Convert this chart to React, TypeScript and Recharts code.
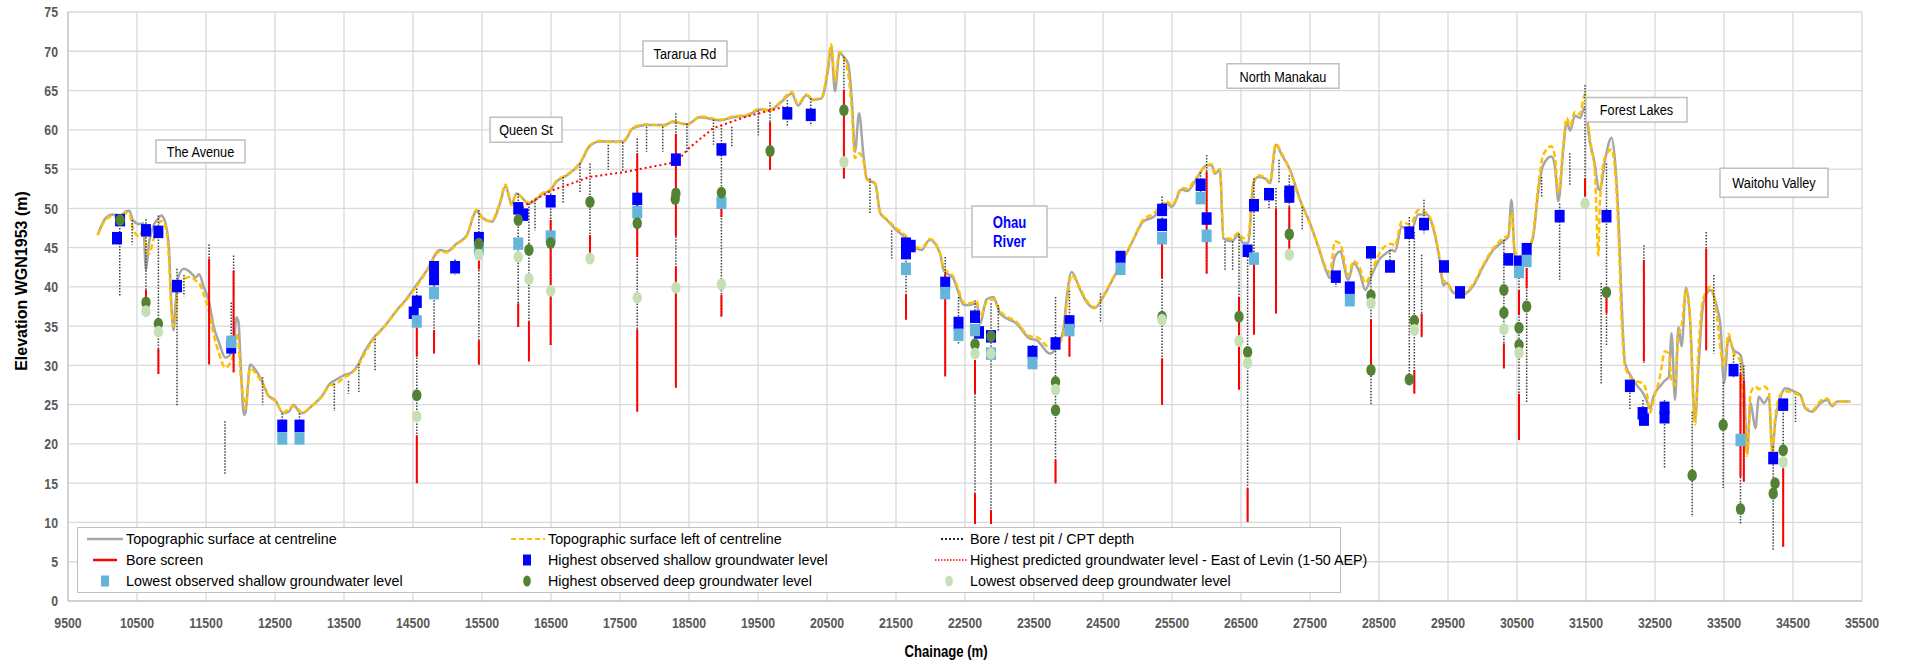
import React from 'react';
import { ComposedChart, Line, Scatter, XAxis, YAxis, CartesianGrid, ReferenceArea } from 'recharts';

const ARIAL = "'Liberation Sans', Arial, sans-serif";
const NARROW_X = 0.82; // squeeze to imitate Arial Narrow

const X_TICKS = [9500, 10500, 11500, 12500, 13500, 14500, 15500, 16500, 17500, 18500, 19500, 20500, 21500, 22500,
  23500, 24500, 25500, 26500, 27500, 28500, 29500, 30500, 31500, 32500, 33500, 34500, 35500];
const Y_TICKS = [0, 5, 10, 15, 20, 25, 30, 35, 40, 45, 50, 55, 60, 65, 70, 75];

// chainage of the long section profile points
const TOPO_X = [9930, 10050, 10150, 10250, 10340, 10390, 10440, 10530, 10590, 10630, 10670, 10750, 10800, 10850, 10900,
  10960, 11000, 11030, 11060, 11090, 11180, 11280, 11350, 11400, 11470, 11540, 11610, 11690, 11780, 11860, 11900,
  11940, 11970, 12000, 12050, 12070, 12140, 12220, 12310, 12410, 12500, 12620, 12700, 12770, 12840, 12890, 13030,
  13180, 13300, 13370, 13510, 13610, 13710, 13800, 13920, 14090, 14280, 14400, 14530, 14700, 14890, 14990, 15130,
  15280, 15420, 15520, 15640, 15760, 15840, 15930, 16000, 16180, 16390, 16490, 16580, 16730, 16920, 17060, 17210,
  17400, 17550, 17690, 17890, 18130, 18270, 18470, 18660, 18950, 19140, 19340, 19530, 19670, 19820, 19990, 20080,
  20200, 20300, 20420, 20520, 20560, 20615, 20680, 20760, 20810, 20860, 20905, 20965, 21030, 21075, 21200, 21270,
  21370, 21510, 21630, 21750, 21870, 21990, 22140, 22190, 22330, 22400, 22480, 22570, 22670, 22720, 22810, 22910,
  23010, 23250, 23440, 23540, 23730, 23830, 23925, 23975, 24045, 24170, 24260, 24380, 24500, 24650, 24790, 24940,
  25080, 25230, 25420, 25500, 25640, 25720, 25830, 26000, 26075, 26120, 26195, 26245, 26365, 26460, 26530, 26605,
  26680, 26750, 26850, 26920, 27005, 27090, 27210, 27355, 27500, 27620, 27740, 27790, 27860, 27935, 28055, 28130,
  28225, 28300, 28395, 28515, 28610, 28685, 28730, 28830, 28950, 29070, 29190, 29265, 29385, 29430, 29480, 29580,
  29720, 29870, 30010, 30155, 30300, 30375, 30420, 30470, 30545, 30640, 30735, 30810, 30880, 31000, 31050, 31100,
  31170, 31220, 31270, 31340, 31410, 31485, 31555, 31630, 31680, 31700, 31775, 31870, 31920, 31970, 32015, 32065,
  32140, 32235, 32330, 32380, 32430, 32475, 32570, 32645, 32700, 32740, 32790, 32840, 32885, 32950, 33005, 33080,
  33130, 33200, 33300, 33395, 33450, 33500, 33565, 33635, 33740, 33790, 33835, 33885, 33955, 34005, 34080, 34150,
  34200, 34245, 34320, 34390, 34510, 34610, 34680, 34780, 34900, 34995, 35070, 35140, 35330];

const TOPO_CL = [46.6, 48.8, 49.2, 49.0, 49.6, 49.7, 48.5, 48.0, 48.1, 42.1, 45.3, 48.0, 48.6, 49.1, 48.5,
  45.3, 37.5, 34.5, 38.0, 41.0, 42.3, 41.8, 41.2, 41.6, 39.9, 38.3, 35.0, 32.9, 31.0, 31.5, 32.4,
  36.1, 35.6, 30.7, 23.7, 23.9, 30.1, 29.4, 28.0, 26.1, 25.6, 23.9, 24.1, 25.0, 24.2, 23.9, 24.8,
  26.1, 27.7, 28.1, 28.8, 29.1, 30.2, 31.8, 33.4, 35.0, 37.2, 38.4, 40.0, 42.1, 44.7, 44.5, 45.5,
  46.6, 49.6, 48.7, 48.3, 50.6, 52.8, 50.6, 51.9, 50.6, 51.9, 52.3, 53.4, 54.2, 55.7, 57.9, 58.5,
  58.5, 58.5, 60.2, 60.6, 60.6, 61.0, 60.7, 61.6, 61.2, 61.6, 61.8, 62.6, 62.5, 63.4, 64.6, 63.1,
  64.4, 63.8, 64.0, 68.0, 70.6, 64.9, 69.7, 69.1, 68.3, 63.8, 57.2, 62.1, 56.6, 53.8, 53.1, 49.4,
  48.5, 47.2, 46.3, 45.1, 44.7, 46.0, 44.2, 42.1, 41.1, 39.4, 37.7, 37.7, 37.9, 35.3, 38.4, 38.7,
  36.6, 35.3, 33.4, 33.2, 31.5, 32.4, 34.5, 38.7, 41.9, 39.6, 38.1, 37.3, 38.7, 41.1, 43.4, 46.0,
  48.3, 48.9, 50.6, 50.2, 52.4, 52.2, 53.4, 55.5, 55.5, 54.4, 54.9, 46.2, 45.8, 46.6, 45.6, 45.6,
  53.2, 54.0, 53.8, 53.2, 58.1, 56.8, 54.9, 51.1, 48.1, 45.1, 41.9, 41.1, 43.8, 44.5, 40.9, 43.0,
  41.7, 39.6, 41.5, 43.6, 44.3, 44.7, 44.5, 47.7, 46.8, 49.2, 49.2, 48.1, 43.0, 40.2, 40.5, 39.2,
  39.0, 40.2, 42.6, 44.7, 45.8, 46.4, 51.1, 43.8, 43.6, 44.3, 46.4, 52.3, 55.5, 56.6, 55.3, 50.9,
  57.4, 61.0, 59.9, 61.8, 61.5, 62.9, 58.5, 55.5, 52.5, 52.3, 56.1, 59.0, 56.1, 48.9, 38.3, 30.3,
  28.8, 27.5, 26.4, 25.5, 24.5, 26.0, 27.3, 28.1, 28.5, 34.1, 25.6, 34.9, 32.4, 39.9, 36.2, 23.0,
  29.8, 37.9, 39.6, 37.5, 34.9, 27.7, 33.6, 32.0, 31.3, 27.7, 18.8, 25.2, 22.0, 26.0, 25.2, 26.0,
  19.2, 23.0, 26.0, 27.1, 26.7, 26.2, 24.5, 24.1, 25.2, 25.6, 24.8, 25.4, 25.4];

const TOPO_LEFT = [46.6, 48.6, 49.0, 48.8, 49.4, 49.3, 47.5, 46.4, 47.3, 45.0, 44.2, 46.4, 47.8, 48.4, 48.0,
  44.0, 37.0, 35.0, 35.6, 39.5, 41.0, 41.3, 40.8, 40.5, 39.0, 37.0, 34.0, 31.5, 29.7, 30.5, 31.5,
  34.0, 33.0, 29.0, 25.5, 24.5, 29.6, 29.0, 27.8, 26.0, 25.5, 24.0, 24.5, 24.8, 24.4, 24.0, 24.8,
  26.0, 27.5, 27.6, 28.5, 29.0, 30.0, 31.5, 33.2, 35.0, 37.1, 38.3, 39.8, 42.0, 44.5, 44.4, 45.4,
  46.5, 49.8, 48.6, 48.4, 50.8, 53.0, 50.4, 51.8, 50.7, 52.0, 52.4, 53.5, 54.3, 55.8, 58.0, 58.6,
  58.4, 58.6, 60.3, 60.7, 60.5, 61.1, 60.6, 61.7, 61.3, 61.7, 61.9, 62.7, 62.4, 63.5, 64.8, 63.3,
  64.5, 63.9, 64.1, 68.5, 70.9, 66.3, 69.9, 68.8, 67.0, 62.5, 56.4, 57.0, 56.0, 53.7, 53.2, 49.5,
  48.6, 47.4, 46.6, 45.3, 44.9, 46.1, 44.3, 42.4, 41.3, 39.8, 38.0, 37.9, 38.2, 36.2, 38.0, 38.4,
  36.9, 35.5, 33.7, 33.6, 32.3, 32.6, 33.8, 37.9, 41.5, 39.8, 38.3, 37.4, 38.8, 41.2, 43.5, 46.1,
  48.5, 49.3, 50.9, 50.4, 52.6, 52.5, 53.6, 55.4, 55.6, 54.6, 55.0, 46.5, 46.1, 46.9, 46.2, 46.5,
  53.3, 54.2, 53.9, 53.4, 58.2, 57.0, 54.8, 51.0, 48.0, 45.2, 42.3, 41.8, 45.8, 45.5, 41.5, 43.3,
  42.3, 40.5, 42.0, 44.4, 45.3, 45.5, 45.2, 48.3, 47.9, 49.8, 49.4, 48.3, 43.4, 40.8, 40.6, 39.4,
  39.2, 40.4, 42.8, 44.9, 46.2, 46.6, 49.4, 44.5, 43.9, 44.5, 46.8, 53.0, 56.8, 57.9, 56.5, 52.0,
  58.0, 61.5, 60.5, 62.3, 62.0, 64.5, 59.0, 54.5, 44.0, 50.5, 56.5, 57.5, 55.0, 47.0, 36.0, 30.0,
  28.5, 28.0, 27.7, 26.5, 24.0, 25.5, 28.5, 31.8, 31.5, 28.0, 27.5, 34.0, 35.0, 39.6, 36.5, 22.5,
  32.0, 38.5, 40.0, 36.5, 32.0, 30.0, 34.0, 31.7, 30.5, 24.0, 18.5, 26.5, 27.3, 27.0, 27.3, 26.7,
  18.8, 23.5, 26.3, 26.7, 26.5, 26.0, 24.6, 24.3, 25.5, 25.8, 25.0, 25.4, 25.4];

// [chainage, top, bottom] of each bore / test pit / CPT
const BORES = [
  [10250, 47.5, 38.8], [10430, 48.5, 45.4], [10630, 48.6, 38.0], [10810, 49.1, 28.9], [11080, 42.3, 24.8],
  [11180, 41.5, 38.8], [11545, 45.4, 30.1], [11775, 22.9, 16.2], [11865, 38.0, 32.0], [11900, 44.0, 29.1],
  [12320, 28.5, 25.0], [12605, 23.9, 22.0], [12855, 23.9, 22.0], [13360, 27.7, 24.2], [13565, 28.0, 26.4],
  [13715, 30.2, 26.6], [13950, 33.4, 29.3], [14555, 39.8, 15.0], [14805, 42.5, 31.5], [15110, 43.5, 41.5],
  [15455, 49.8, 30.1], [16025, 51.9, 34.9], [16180, 50.6, 30.5], [16268, 51.1, 47.2], [16495, 51.9, 32.6],
  [16676, 54.0, 50.6], [16920, 55.7, 51.9], [17065, 55.7, 44.3], [17330, 58.1, 54.9], [17540, 58.4, 54.6],
  [17750, 58.9, 24.1], [17885, 60.4, 57.2], [18120, 60.4, 57.2], [18310, 62.1, 27.2], [18470, 60.8, 57.0],
  [18855, 61.3, 58.1], [18970, 60.6, 36.2], [19120, 60.4, 57.9], [19505, 62.5, 59.3], [19675, 63.5, 54.9],
  [19925, 63.8, 60.5], [20265, 64.0, 60.5], [20745, 69.3, 53.8], [21123, 53.8, 49.4], [21437, 47.2, 43.6],
  [21645, 46.0, 35.8], [22213, 43.8, 28.6], [22406, 38.7, 32.8], [22645, 38.3, 9.8], [22877, 37.9, 9.8],
  [22983, 37.7, 34.4], [23478, 32.6, 31.0], [23812, 38.7, 15.0], [24014, 39.5, 31.1], [24464, 39.2, 35.6],
  [25356, 51.5, 25.0], [25915, 54.6, 50.5], [26002, 56.8, 41.5], [26268, 45.8, 42.1], [26379, 45.8, 42.1],
  [26471, 46.8, 26.9], [26596, 45.0, 10.1], [26688, 53.8, 33.9], [26906, 52.5, 50.0], [27007, 52.6, 36.6],
  [27051, 56.2, 53.2], [27200, 54.2, 44.9], [27388, 50.2, 47.2], [27875, 42.0, 40.0], [28077, 40.5, 37.5],
  [28384, 45.1, 25.0], [28659, 44.7, 42.0], [28939, 48.9, 28.0], [29012, 47.0, 26.4], [29118, 44.1, 33.5],
  [29152, 51.1, 46.8], [30310, 46.0, 29.6], [30529, 43.5, 20.5], [30640, 45.0, 25.2], [30857, 54.0, 51.5],
  [31118, 50.6, 40.9], [31266, 57.0, 53.0], [31486, 65.7, 51.5], [31720, 40.5, 27.7], [31797, 55.7, 32.4],
  [32136, 27.3, 24.3], [32339, 45.3, 30.3], [32325, 25.6, 22.2], [32638, 25.6, 16.9], [33039, 24.1, 10.7],
  [33242, 47.0, 31.8], [33352, 41.5, 31.5], [33488, 27.9, 14.4], [33638, 31.3, 28.5], [33739, 30.3, 9.7],
  [33787, 30.0, 15.2], [34213, 19.7, 6.5], [34358, 25.5, 6.9], [34536, 26.0, 22.8],
];

// [chainage, top, bottom] of screened intervals
const SCREENS = [
  [10630, 39.6, 38.6], [10810, 32.1, 28.9], [11545, 43.6, 30.1], [11900, 42.1, 29.1], [14555, 34.8, 31.1],
  [14555, 21.1, 15.0], [14805, 34.5, 31.5], [15455, 43.4, 42.2], [15455, 33.2, 30.1], [16025, 37.9, 34.9],
  [16180, 35.6, 30.5], [16495, 48.5, 32.6], [17065, 46.6, 44.3], [17750, 57.0, 43.8], [17750, 34.6, 24.1],
  [18310, 59.5, 46.4], [18310, 42.6, 27.2], [18970, 50.7, 48.9], [18970, 39.0, 36.2], [19675, 61.0, 54.9],
  [20745, 65.1, 53.8], [21645, 39.0, 35.8], [22213, 41.7, 28.6], [22645, 30.7, 26.4], [22645, 13.7, 9.8],
  [22877, 11.6, 9.8], [23812, 18.0, 15.0], [24014, 33.7, 31.1], [25356, 45.5, 41.1], [25356, 30.9, 25.0],
  [26002, 54.7, 41.7], [26471, 38.7, 26.9], [26596, 14.4, 10.1], [26688, 43.0, 33.9], [27007, 50.0, 36.6],
  [27200, 50.2, 44.9], [28384, 35.8, 30.1], [29012, 29.4, 26.4], [29118, 36.6, 33.7], [30310, 32.8, 29.6],
  [30529, 39.6, 36.4], [30529, 26.4, 20.5], [30640, 42.4, 39.8], [31486, 53.8, 51.5], [31797, 38.7, 36.6],
  [32339, 43.4, 30.5], [33242, 44.9, 32.0], [33739, 29.0, 15.8], [33787, 28.1, 15.2], [34358, 16.9, 6.9],
];

const SHALLOW_HIGH = [
  [10210, 46.2], [10255, 48.5], [10630, 47.2], [10810, 47.0], [11080, 40.1], [11865, 32.3], [12605, 22.3],
  [12855, 22.3], [14510, 36.7], [14555, 38.1], [14805, 42.5], [14805, 41.0], [15110, 42.5], [15455, 46.2],
  [16025, 50.0], [16099, 49.2], [16495, 50.9], [17750, 51.2], [18310, 56.2], [18970, 57.5], [19925, 62.1],
  [20265, 61.9], [21645, 45.5], [21645, 44.3], [21713, 45.2], [22213, 40.5], [22406, 35.4], [22645, 36.2],
  [22703, 34.2], [22877, 33.7], [23478, 31.7], [23812, 32.8], [24014, 35.6], [24754, 43.8], [25356, 49.8],
  [25356, 47.9], [25915, 53.0], [26002, 48.7], [26596, 44.6], [26688, 50.4], [26906, 51.8], [27200, 52.1],
  [27200, 51.5], [27875, 41.3], [28077, 39.9], [28384, 44.4], [28659, 42.6], [28939, 46.9], [29152, 48.0],
  [29442, 42.6], [29674, 39.3], [30374, 43.5], [30529, 43.2], [30640, 44.8], [31118, 49.0], [31797, 49.0],
  [32136, 27.4], [32320, 23.9], [32340, 23.1], [32638, 24.6], [32638, 23.4], [33638, 29.4], [34213, 18.2],
  [34358, 25.0],
];

const SHALLOW_LOW = [
  [11865, 33.0], [12605, 20.7], [12855, 20.7], [14555, 35.6], [14805, 39.2], [15455, 44.9], [16025, 45.5],
  [16495, 46.4], [17750, 49.5], [18970, 50.7], [21645, 42.3], [22213, 39.2], [22406, 33.9], [22645, 34.5],
  [22877, 31.5], [23478, 30.3], [24014, 34.5], [24754, 42.3], [25356, 46.2], [25915, 51.3], [26002, 46.5],
  [26688, 43.6], [28077, 38.3], [30529, 41.9], [30640, 43.3], [33739, 20.5],
];

const DEEP_HIGH = [
  [10255, 48.5], [10630, 38.0], [10810, 35.3], [14555, 26.2], [15455, 45.5], [16025, 48.5], [16180, 44.7],
  [16495, 45.6], [17065, 50.8], [17750, 48.1], [18300, 51.2], [18310, 51.9], [18970, 52.0], [19675, 57.3],
  [20745, 62.5], [22645, 32.7], [22877, 33.7], [23812, 27.9], [23812, 24.3], [25356, 36.2], [26471, 36.2],
  [26596, 31.7], [27200, 46.7], [28384, 38.9], [28384, 29.4], [28939, 28.2], [29012, 35.7], [30310, 39.6],
  [30310, 36.7], [30529, 34.8], [30529, 32.6], [30640, 37.5], [31797, 39.3], [33039, 16.0], [33488, 22.4],
  [33739, 11.7], [34213, 13.7], [34240, 15.0], [34358, 19.2],
];

const DEEP_LOW = [
  [10630, 36.9], [10810, 34.3], [14555, 23.5], [15455, 44.1], [16025, 43.8], [16180, 41.0], [16495, 39.5],
  [17065, 43.6], [17750, 38.6], [18310, 39.9], [18970, 40.3], [20745, 55.9], [22645, 31.5], [22877, 31.5],
  [23812, 26.9], [25356, 35.8], [26471, 33.1], [26596, 30.3], [27200, 44.1], [28384, 37.9], [29012, 34.5],
  [30310, 34.6], [30529, 31.6], [31486, 50.6], [34358, 17.7],
];

// highest predicted groundwater level, East of Levin
const PRED_X = [16020, 16170, 16490, 17065, 17550, 18320, 18490, 18850, 19340, 19870];
const PRED_Y = [49.8, 50.6, 52.2, 54.0, 54.6, 55.9, 57.6, 60.2, 61.7, 62.9];

const PLACES = [
  { lines: ['The Avenue'], x1: 10775, x2: 12065, y1: 55.8, y2: 58.7 },
  { lines: ['Queen St'], x1: 15616, x2: 16659, y1: 58.4, y2: 61.6 },
  { lines: ['Tararua Rd'], x1: 17833, x2: 19051, y1: 68.1, y2: 71.3 },
  { lines: ['Ohau', 'River'], x1: 22601, x2: 23688, y1: 43.8, y2: 50.3, river: true },
  { lines: ['North Manakau'], x1: 26297, x2: 27920, y1: 65.3, y2: 68.4 },
  { lines: ['Forest Lakes'], x1: 31500, x2: 32964, y1: 61.0, y2: 64.1 },
  { lines: ['Waitohu Valley'], x1: 33442, x2: 35007, y1: 51.4, y2: 55.1 },
];

const topoData = TOPO_X.map((x, i) => ({ x, cl: TOPO_CL[i], left: TOPO_LEFT[i] }));
const segments = (rows: number[][]) =>
  rows.flatMap(([x, top, bottom]) => [{ x, y: top }, { x, y: bottom }, { x, y: null }]);
const boreData = segments(BORES);
const screenData = segments(SCREENS);
const predData = PRED_X.map((x, i) => ({ x, y: PRED_Y[i] }));
const pts = (rows: number[][]) => rows.map(([x, y]) => ({ x, y }));

const square = (fill: string) => (p: any) => (
  <rect x={p.cx - 5} y={p.cy - 6.25} width={10} height={12.5} fill={fill} />
);
const ellipse = (fill: string) => (p: any) => <ellipse cx={p.cx} cy={p.cy} rx={4.7} ry={6} fill={fill} />;

const NarrowTick = (anchor: 'middle' | 'end', dy: string) => (props: any) => {
  const { x, y, payload } = props;
  return (
    <text transform={`translate(${x},${y}) scale(${NARROW_X},1)`} textAnchor={anchor} dy={dy}
      fontFamily={ARIAL} fontSize={15} fontWeight={700} fill="#595959">
      {payload.value}
    </text>
  );
};

const placeLabel = (lines: string[], river?: boolean) => (props: any) => {
  const { x, y, width, height } = props.viewBox;
  const cx = x + width / 2;
  const cy = y + height / 2;
  const lh = 19;
  const start = -((lines.length - 1) * lh) / 2;
  return (
    <text transform={`translate(${cx},${cy}) scale(${NARROW_X},1)`} textAnchor="middle" fontFamily={ARIAL}
      fontSize={river ? 16 : 15.5} fontWeight={river ? 700 : 400} fill={river ? '#0000ff' : '#000'}>
      {lines.map((l, i) => (
        <tspan key={l} x={0} y={start + i * lh} dy="0.36em">{l}</tspan>
      ))}
    </text>
  );
};

const LEGEND_ITEMS = [
  { label: 'Topographic surface at centreline', sym: 'cl' },
  { label: 'Topographic surface left of centreline', sym: 'left' },
  { label: 'Bore / test pit / CPT depth', sym: 'bore' },
  { label: 'Bore screen', sym: 'screen' },
  { label: 'Highest observed shallow groundwater level', sym: 'shigh' },
  { label: 'Highest predicted groundwater level - East of Levin (1-50 AEP)', sym: 'pred' },
  { label: 'Lowest observed shallow groundwater level', sym: 'slow' },
  { label: 'Highest observed deep groundwater level', sym: 'dhigh' },
  { label: 'Lowest observed deep groundwater level', sym: 'dlow' },
];

function LegendSymbol({ sym }: { sym: string }) {
  return (
    <svg width={36} height={14} style={{ display: 'block' }}>
      {sym === 'cl' && <line x1={0} x2={36} y1={7} y2={7} stroke="#a6a6a6" strokeWidth={2.5} />}
      {sym === 'left' && <line x1={2} x2={36} y1={7} y2={7} stroke="#ffc000" strokeWidth={2} strokeDasharray="5 3" />}
      {sym === 'bore' && <line x1={10} x2={32} y1={7} y2={7} stroke="#262626" strokeWidth={2} strokeDasharray="2 2" />}
      {sym === 'screen' && <line x1={6} x2={30} y1={7} y2={7} stroke="#ff0000" strokeWidth={2.5} />}
      {sym === 'pred' && <line x1={4} x2={36} y1={7} y2={7} stroke="#ff0000" strokeWidth={1.5} strokeDasharray="1.5 1.5" />}
      {sym === 'shigh' && <rect x={14} y={1.5} width={8} height={11} fill="#0000ff" />}
      {sym === 'slow' && <rect x={14} y={1.5} width={8} height={11} fill="#64b4dc" />}
      {sym === 'dhigh' && <ellipse cx={18} cy={7} rx={3.8} ry={5.5} fill="#548235" />}
      {sym === 'dlow' && <ellipse cx={18} cy={7} rx={3.8} ry={5.5} fill="#c5e0b4" />}
    </svg>
  );
}

function ChartLegend() {
  const colLeft = [9, 431, 853];
  const rowTop = [1, 22, 43];
  return (
    <div style={{ position: 'absolute', left: 77, top: 527, width: 1264, height: 66, background: '#fff',
      border: '1px solid #bfbfbf', boxSizing: 'border-box' }}>
      {LEGEND_ITEMS.map((it, i) => (
        <div key={it.label} style={{ position: 'absolute', left: colLeft[i % 3], top: rowTop[Math.floor(i / 3)],
          display: 'flex', alignItems: 'center', height: 20, whiteSpace: 'nowrap' }}>
          <LegendSymbol sym={it.sym} />
          <span style={{ marginLeft: 3, fontFamily: ARIAL, fontSize: 14.3, color: '#000' }}>{it.label}</span>
        </div>
      ))}
    </div>
  );
}

export default function App() {
  return (
    <div style={{ position: 'absolute', left: 0, top: 0, width: 1912, height: 666, background: '#fff' }}>
      <ComposedChart width={1912} height={666} data={topoData} margin={{ top: 12, right: 50, bottom: 0, left: 0 }}>
        <CartesianGrid stroke="#d9d9d9" strokeWidth={1.3} />
        <XAxis type="number" dataKey="x" domain={[9500, 35500]} ticks={X_TICKS} interval={0} allowDataOverflow
          height={65} tickLine={false} tickSize={0} tickMargin={16} axisLine={{ stroke: '#bfbfbf' }}
          tick={NarrowTick('middle', '0.71em')} />
        <YAxis type="number" domain={[0, 75]} ticks={Y_TICKS} interval={0} allowDataOverflow width={68}
          tickLine={false} tickSize={0} tickMargin={10} axisLine={{ stroke: '#bfbfbf' }}
          tick={NarrowTick('end', '0.36em')} />
        <Line type="monotone" dataKey="cl" stroke="#a6a6a6" strokeWidth={2.5} dot={false} activeDot={false}
          isAnimationActive={false} />
        <Line type="monotone" dataKey="left" stroke="#ffc000" strokeWidth={2.5} strokeDasharray="6 3" dot={false}
          activeDot={false} isAnimationActive={false} />
        <Line data={boreData} dataKey="y" stroke="#404040" strokeWidth={1.5} strokeDasharray="1.5 1.5"
          connectNulls={false} dot={false} activeDot={false} isAnimationActive={false} />
        <Line data={screenData} dataKey="y" stroke="#ff0000" strokeWidth={2} connectNulls={false} dot={false}
          activeDot={false} isAnimationActive={false} />
        <Scatter data={pts(SHALLOW_HIGH)} dataKey="y" shape={square('#0000ff')} isAnimationActive={false} />
        <Line data={predData} dataKey="y" stroke="#ff0000" strokeWidth={2} strokeDasharray="2 3" dot={false}
          activeDot={false} isAnimationActive={false} />
        <Scatter data={pts(SHALLOW_LOW)} dataKey="y" shape={square('#64b4dc')} isAnimationActive={false} />
        <Scatter data={pts(DEEP_HIGH)} dataKey="y" shape={ellipse('#548235')} isAnimationActive={false} />
        <Scatter data={pts(DEEP_LOW)} dataKey="y" shape={ellipse('#c5e0b4')} isAnimationActive={false} />
        {PLACES.map((p) => (
          <ReferenceArea key={p.lines.join(' ')} x1={p.x1} x2={p.x2} y1={p.y1} y2={p.y2} fill="#fff" fillOpacity={1}
            stroke="#bfbfbf" strokeWidth={1.5} ifOverflow="visible" zIndex={2000}
            label={{ content: placeLabel(p.lines, p.river) }} />
        ))}
      </ComposedChart>
      <ChartLegend />
      <div style={{ position: 'absolute', left: 22, top: 281, transform: 'translate(-50%, -50%) rotate(-90deg)',
        fontFamily: ARIAL, fontWeight: 700, fontSize: 16, whiteSpace: 'nowrap', color: '#000' }}>
        Elevation WGN1953 (m)
      </div>
      <div style={{ position: 'absolute', left: 946, top: 652, transform: `translate(-50%, -50%) scaleX(${NARROW_X})`,
        fontFamily: ARIAL, fontWeight: 700, fontSize: 16, whiteSpace: 'nowrap', color: '#000' }}>
        Chainage (m)
      </div>
    </div>
  );
}
